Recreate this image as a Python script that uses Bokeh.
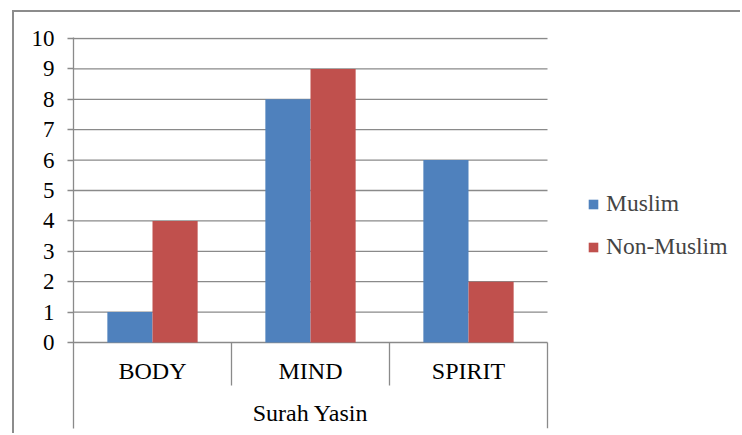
from bokeh.plotting import figure
from bokeh.models import Range1d, FixedTicker, Legend, LegendItem, ColumnDataSource
from bokeh.core.properties import value
from bokeh.embed import file_html
from bokeh.resources import INLINE

# ---- data ----
categories = ["BODY", "MIND", "SPIRIT"]
group_label = "Surah Yasin"
series_names = ["Muslim", "Non-Muslim"]
muslim = [1, 8, 6]
non_muslim = [4, 9, 2]
y_ticks = [0, 1, 2, 3, 4, 5, 6, 7, 8, 9, 10]

# ---- style ----
FONT = "Liberation Serif"
TICK_SIZE = "23px"
TEXT_SIZE = "24px"
GRID = "#8a8a8a"
BLUE = "#4F81BD"
RED = "#C0504D"
UNIT = 30.4   # px per y unit
CAT_PX = 158  # px per category

n = len(categories)
W, H = 728, 423
LEFT, TOP, BOTTOM = 59, 25, 7
frame_w = W - LEFT
frame_h = H - TOP - BOTTOM

p = figure(width=W, height=H, output_backend="svg", toolbar_location=None,
           x_range=Range1d(0, frame_w / CAT_PX),
           y_range=Range1d(-(frame_h - 10 * UNIT - 1) / UNIT, 10 + 1 / UNIT),
           x_axis_location=None,
           min_border_left=LEFT, min_border_right=0,
           min_border_top=TOP, min_border_bottom=BOTTOM)
p.outline_line_color = None
p.styles = {"margin-left": "14px", "margin-top": "12px",
            "box-shadow": "-2px -2px 0 0 #8c8c8c"}

ax = p.yaxis[0]
ax.ticker = FixedTicker(ticks=y_ticks)
ax.axis_line_color = GRID
ax.axis_line_width = 1.3
ax.major_tick_line_color = GRID
ax.major_tick_line_width = 1.3
ax.major_tick_out = 6
ax.major_tick_in = 0
ax.minor_tick_line_color = None
ax.major_label_standoff = 13
ax.major_label_text_font = FONT
ax.major_label_text_font_size = TICK_SIZE
ax.major_label_text_color = "black"

p.xgrid.visible = False
p.ygrid.visible = False

# horizontal gridlines across the category area
p.segment(x0=[0] * len(y_ticks), x1=[n] * len(y_ticks), y0=y_ticks, y1=y_ticks,
          line_color=GRID, line_width=1.3)

centers = [i + 0.5 for i in range(n)]
w = 1 / 3.5
src = ColumnDataSource(dict(
    xm=[c - w / 2 for c in centers], xn=[c + w / 2 for c in centers],
    muslim=muslim, non=non_muslim))
r1 = p.vbar(x="xm", top="muslim", width=w, source=src, fill_color=BLUE, line_color=None)
r2 = p.vbar(x="xn", top="non", width=w, source=src, fill_color=RED, line_color=None)

# category axis separators
inner = list(range(1, n))
y_bottom = p.y_range.start
p.segment(x0=inner, x1=inner, y0=[0] * len(inner), y1=[-43 / UNIT] * len(inner),
          line_color=GRID, line_width=1.3)
p.segment(x0=[n], x1=[n], y0=[0], y1=[y_bottom], line_color=GRID, line_width=1.3)

p.text(x=centers, y=[-28 / UNIT] * n, text=categories,
       text_font=value(FONT), text_font_size=TEXT_SIZE, text_color="black",
       text_align="center", text_baseline="middle")
p.text(x=[n / 2], y=[-70 / UNIT], text=[group_label],
       text_font=value(FONT), text_font_size=TEXT_SIZE, text_color="black",
       text_align="center", text_baseline="middle")

legend = Legend(items=[LegendItem(label=series_names[0], renderers=[r1]),
                       LegendItem(label=series_names[1], renderers=[r2])],
                location=(514, 168), padding=0, margin=0,
                border_line_color=None, background_fill_alpha=0,
                glyph_width=12, glyph_height=12, label_standoff=7, spacing=16,
                label_text_font=FONT, label_text_font_size="23.5px")
p.add_layout(legend)

open("out.html", "w").write(file_html(p, INLINE))
